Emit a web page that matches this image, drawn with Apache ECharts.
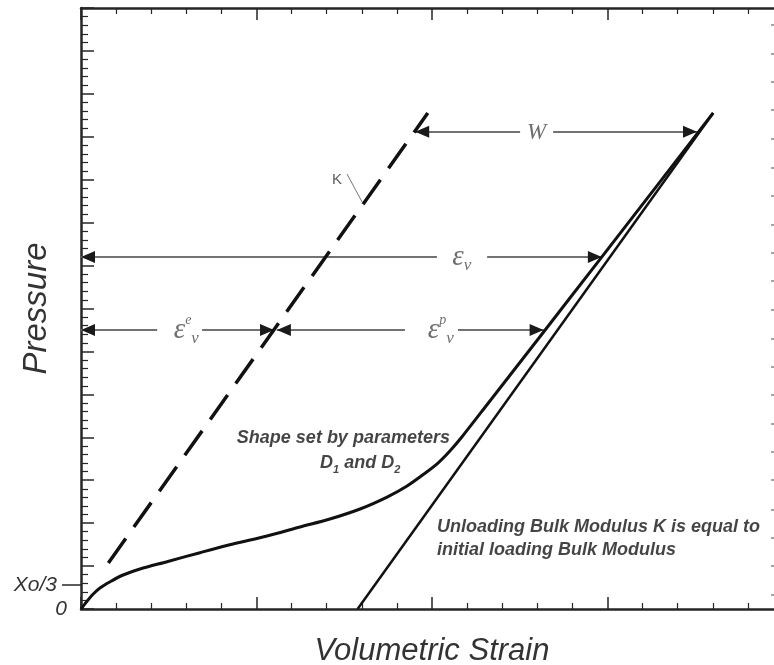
<!DOCTYPE html>
<html>
<head>
<meta charset="utf-8">
<script src="https://cdn.jsdelivr.net/npm/echarts@6/dist/echarts.min.js"></script>
<style>
  html, body { margin: 0; padding: 0; background: #fff; }
  #chart { width: 774px; height: 665px; }
</style>
</head>
<body>
<div id="chart"></div>
<script>
// Loading curve (volumetric strain vs pressure, in axis minor-tick units)
const loadingStrain = [0, 0.16, 0.35, 0.54, 0.83, 1.20, 1.68, 2.45, 3.39, 4.33, 5.30, 6.24, 7.09, 7.95, 8.72, 9.29, 9.77, 10.17, 10.51, 10.85, 11.65, 13.08, 14.79, 16.50, 18.01];
const loadingPressure = [0, 0.85, 1.75, 2.45, 3.18, 3.96, 4.66, 5.51, 6.56, 7.57, 8.50, 9.55, 10.48, 11.65, 13.04, 14.33, 15.72, 17.00, 18.40, 20.03, 24.23, 31.74, 40.76, 49.78, 57.77];

// Unloading line (slope = bulk modulus K)
const unloadStrain = [7.88, 18.01];
const unloadPressure = [0, 57.77];

// Initial loading bulk modulus K (dashed)
const kStrain = [0.78, 9.88];
const kPressure = [5.36, 57.77];

// Dimension arrows: each segment runs from the label gap to the arrow tip
const arrowLevel = [55.6, 55.6, 41.0, 41.0, 32.5, 32.5, 32.5, 32.5];
const arrowFrom  = [12.51, 13.45, 10.14, 11.57, 2.17, 3.45, 9.23, 10.74];
const arrowTo    = [9.52, 17.55, 0, 14.84, 0, 5.50, 5.58, 13.18];
const headHalfLength = 0.2; // half of the arrow head length, in strain units

// Symbol labels on the arrows and the K tag
const markText = ['W', '{e|\u03B5}{sb|v}', '{e|\u03B5}{sp|e}{sb|v}', '{e|\u03B5}{sp|p}{sb|v}', 'K'];
const markStrain = [12.98, 10.85, 3.0, 10.25, 7.29];
const markPressure = [55.4, 41.0, 32.5, 32.5, 49.97];

// K leader line
const kLeaderStrain = [7.58, 8.01];
const kLeaderPressure = [50.66, 47.40];

// Notes
const noteText = ['Shape set by parameters', '{t|D}{s|1}{t| and D}{s|2}', 'Unloading Bulk Modulus K is equal to', 'initial loading Bulk Modulus'];
const noteStrain = [4.44, 6.81, 10.14, 10.14];
const notePressure = [19.92, 17.0, 9.55, 6.87];

// Axis labels
const yLabelValues = [0, 2.8];
const yLabelText = ['0', 'Xo/3'];
const rightTickValues = [68.0, 64.7, 61.4, 58.1, 54.8, 51.4, 48.1, 44.8, 41.5, 38.2, 34.9, 31.5, 28.2, 24.9, 21.6, 18.3, 15.0, 11.6, 8.3, 5.0, 1.7];

const AX = '#262626';
const zip = (xs, ys) => xs.map((x, i) => [x, ys[i]]);

const chart = echarts.init(document.getElementById('chart'), null, { renderer: 'canvas' });

const xBase = {
  type: 'value', min: 0, max: 20, interval: 5,
  splitLine: { show: false },
  axisLabel: { show: false },
  axisLine: { show: true, onZero: false, lineStyle: { color: AX, width: 2.5 } },
  axisTick: { show: true, inside: true, length: 12, lineStyle: { color: AX, width: 1.5 } },
  minorTick: { show: true, splitNumber: 5, length: 6, lineStyle: { color: AX, width: 1.2 } }
};

const noteFont = { fontFamily: 'Liberation Sans', fontStyle: 'italic', fontWeight: 'bold', fontSize: 18, color: '#151515' };
const symFont = { fontFamily: 'Liberation Serif', fontStyle: 'italic', color: '#4a4a4a' };
const axisFont = { fontFamily: 'Liberation Sans', fontStyle: 'italic', fontSize: 21, color: '#333' };

const arrowSegments = arrowLevel.map((p, i) => ({ coords: [[arrowFrom[i], p], [arrowTo[i], p]] }));
// heads are centred on their anchor, so pull the anchor back so the tip lands on the segment end
const arrowHeads = arrowLevel.map((p, i) => {
  const dir = Math.sign(arrowTo[i] - arrowFrom[i]);
  return { coords: [[arrowFrom[i], p], [arrowTo[i] - dir * headHalfLength, p]] };
});

const option = {
  animation: false,
  backgroundColor: '#fff',
  grid: { left: 81, top: 8, right: -9, bottom: 56, outerBoundsMode: 'none' },
  xAxis: [
    Object.assign({}, xBase, {
      position: 'bottom',
      name: 'Volumetric Strain', nameLocation: 'middle', nameGap: 27, nameMoveOverlap: false,
      nameTextStyle: { fontFamily: 'Liberation Sans', fontStyle: 'italic', fontSize: 31, color: '#333', verticalAlign: 'top' }
    }),
    Object.assign({}, xBase, { position: 'top' })
  ],
  yAxis: [
    {
      type: 'value', min: 0, max: 70, interval: 5, position: 'left',
      splitLine: { show: false },
      axisLine: { show: true, onZero: false, lineStyle: { color: AX, width: 2.5 } },
      axisTick: { show: true, inside: true, length: 13, lineStyle: { color: AX, width: 1.5 } },
      minorTick: { show: true, splitNumber: 5, length: 7, lineStyle: { color: AX, width: 1.2 } },
      axisLabel: Object.assign({
        customValues: yLabelValues,
        formatter: (v) => {
          const i = yLabelValues.indexOf(v);
          return i > 0 ? '{lead|' + yLabelText[i] + '}' : yLabelText[Math.max(i, 0)];
        },
        margin: 14,
        rich: { lead: Object.assign({ padding: [0, 10, 0, 0] }, axisFont) }
      }, axisFont),
      name: 'Pressure', nameLocation: 'middle', nameGap: 28, nameRotate: 90, nameMoveOverlap: false,
      nameTextStyle: { fontFamily: 'Liberation Sans', fontStyle: 'italic', fontSize: 33, color: '#333' }
    },
    {
      type: 'value', min: 0, max: 70, position: 'left',
      splitLine: { show: false },
      axisLine: { show: false, onZero: false },
      axisLabel: { show: false },
      axisTick: { show: true, inside: false, length: 19, customValues: [yLabelValues[1]], lineStyle: { color: AX, width: 1.5 } }
    },
    {
      type: 'value', min: 0, max: 70, position: 'right',
      splitLine: { show: false },
      axisLine: { show: true, onZero: false, lineStyle: { color: AX, width: 2.5 } },
      axisLabel: { show: false },
      axisTick: { show: true, inside: true, length: 12, customValues: rightTickValues, lineStyle: { color: '#888', width: 1.5 } }
    }
  ],
  series: [
    {
      name: 'Loading', type: 'line', data: zip(loadingStrain, loadingPressure),
      showSymbol: false, smooth: 0.3, z: 5,
      lineStyle: { color: '#111', width: 3 }
    },
    {
      name: 'Unloading', type: 'line', data: zip(unloadStrain, unloadPressure),
      showSymbol: false, z: 5,
      lineStyle: { color: '#111', width: 2.5 }
    },
    {
      name: 'K', type: 'line', data: zip(kStrain, kPressure),
      showSymbol: false, z: 5,
      lineStyle: { color: '#111', width: 3.5, type: [30, 14], cap: 'butt' }
    },
    {
      name: 'Dimensions', type: 'lines', coordinateSystem: 'cartesian2d',
      symbol: ['none', 'none'], z: 4,
      lineStyle: { color: '#727272', width: 2, opacity: 1 },
      data: arrowSegments
    },
    {
      name: 'Arrow heads', type: 'lines', coordinateSystem: 'cartesian2d',
      symbol: ['none', 'triangle'], symbolSize: [[12, 14], [12, 14]], z: 4,
      lineStyle: { color: '#1a1a1a', width: 0, opacity: 1 },
      data: arrowHeads
    },
    {
      name: 'K tag', type: 'lines', coordinateSystem: 'cartesian2d',
      symbol: ['none', 'none'], z: 4,
      lineStyle: { color: '#777', width: 1, opacity: 1 },
      data: [{ coords: zip(kLeaderStrain, kLeaderPressure) }]
    },
    {
      name: 'Symbols', type: 'scatter', symbolSize: 0, z: 6,
      data: markText.map((t, i) => ({
        value: [markStrain[i], markPressure[i]],
        label: { formatter: t }
      })),
      label: {
        show: true, position: 'inside',
        fontFamily: 'Liberation Serif', fontStyle: 'italic', fontSize: 23, color: '#4a4a4a',
        rich: {
          e: Object.assign({ fontSize: 29, lineHeight: 34, verticalAlign: 'middle' }, symFont),
          sp: Object.assign({ fontSize: 14, lineHeight: 34, verticalAlign: 'top' }, symFont),
          sb: Object.assign({ fontSize: 17, lineHeight: 34, verticalAlign: 'bottom' }, symFont)
        }
      }
    },
    {
      name: 'Notes', type: 'scatter', symbolSize: 0, z: 6,
      data: noteText.map((t, i) => ({
        value: [noteStrain[i], notePressure[i]],
        label: { formatter: t }
      })),
      label: Object.assign({
        show: true, position: 'right', distance: 0, align: 'left',
        rich: {
          t: Object.assign({ lineHeight: 24, verticalAlign: 'middle' }, noteFont),
          s: Object.assign({}, noteFont, { fontSize: 11, lineHeight: 24, verticalAlign: 'bottom' })
        }
      }, noteFont)
    }
  ]
};

// K label uses a plain sans face
option.series[6].data[4].label = {
  formatter: markText[4], fontFamily: 'Liberation Sans', fontStyle: 'normal', fontSize: 15, color: '#333'
};

chart.setOption(option);
</script>
</body>
</html>
